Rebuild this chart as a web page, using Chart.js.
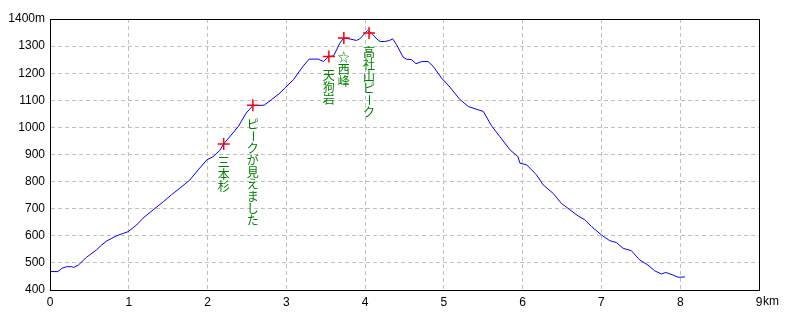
<!DOCTYPE html>
<html lang="ja">
  <head>
    <meta charset="UTF-8" />
    <title>高社山 標高グラフ</title>
    <script src="https://cdn.jsdelivr.net/npm/chart.js"></script>
    <style>
      body { margin: 0; background: #fff; }
      .chart-container { width: 800px; height: 320px; }
    </style>
  </head>
  <body>
    <div class="chart-container">
      <canvas id="profileChart"></canvas>
    </div>

    <script>
      // track distance (km) and elevation (m)
      const distKm = [0, 0.1, 0.15, 0.21, 0.275, 0.3, 0.36, 0.465, 0.59, 0.655, 0.72, 0.845, 0.93, 0.99,
        1.1, 1.18, 1.31, 1.44, 1.54, 1.65, 1.775, 1.88, 1.99, 2.07, 2.155, 2.205, 2.39, 2.49, 2.575,
        2.72, 2.81, 2.92, 2.98, 3.09, 3.21, 3.29, 3.405, 3.47, 3.54, 3.6, 3.68, 3.73, 3.81, 3.89, 3.93,
        4.0, 4.03, 4.08, 4.15, 4.19, 4.25, 4.31, 4.35, 4.4, 4.48, 4.52, 4.59, 4.645, 4.72, 4.8, 4.865,
        4.97, 5.075, 5.2, 5.31, 5.435, 5.5, 5.605, 5.71, 5.84, 5.94, 5.965, 6.05, 6.175, 6.26, 6.385,
        6.49, 6.6, 6.705, 6.79, 6.875, 7.0, 7.105, 7.19, 7.275, 7.38, 7.485, 7.59, 7.675, 7.76, 7.815,
        7.91, 7.975, 8.06];
      const elevM = [468, 468, 480, 486, 486, 483, 492, 521, 548, 566, 581, 600, 609, 615,
        640, 665, 696, 726, 751, 776, 806, 843, 880, 892, 915, 939, 1003, 1053, 1080,
        1082, 1102, 1127, 1145, 1176, 1225, 1252, 1252, 1243, 1262, 1264, 1311, 1330, 1326, 1321, 1326,
        1348, 1357, 1348, 1326, 1317, 1317, 1321, 1327, 1305, 1260, 1252, 1250, 1235, 1243, 1243, 1225,
        1182, 1149, 1104, 1077, 1065, 1059, 1006, 966, 917, 892, 868, 862, 825, 788, 757,
        720, 696, 673, 659, 634, 603, 582, 575, 554, 545, 511, 492, 471, 459, 465,
        455, 447, 448];

      // waypoints
      const wayKm = [2.205, 2.575, 3.54, 3.73, 4.05];
      const wayElev = [939, 1082, 1262, 1330, 1348];
      const wayNames = ["三本杉", "ピークが見えました", "天狗岩", "☆西峰", "高社山ピーク"];

      const xTicks = [0, 1, 2, 3, 4, 5, 6, 7, 8, 9];
      const yTicks = [400, 500, 600, 700, 800, 900, 1000, 1100, 1200, 1300, 1400];

      const tickFont = { family: "'Liberation Sans', sans-serif", size: 12 };

      const trackPoints = distKm.map((d, i) => ({ x: d, y: elevM[i] }));
      const wayPoints = wayKm.map((d, i) => ({ x: d, y: wayElev[i] }));

      // frame, vertical waypoint labels and the "km" unit
      const overlayPlugin = {
        id: "overlay",
        afterDatasetsDraw(chart) {
          const ctx = chart.ctx;
          const area = chart.chartArea;
          const xs = chart.scales.x;
          const ys = chart.scales.y;

          ctx.save();
          ctx.strokeStyle = "#000";
          ctx.lineWidth = 1;
          ctx.strokeRect(Math.round(area.left) + 0.5, Math.round(area.top) + 0.5,
            Math.round(area.right - area.left), Math.round(area.bottom - area.top));

          ctx.fillStyle = "#008000";
          ctx.font = "12px 'Noto Sans CJK JP'";
          ctx.textAlign = "center";
          ctx.textBaseline = "middle";
          wayNames.forEach((name, i) => {
            const px = xs.getPixelForValue(wayKm[i]);
            const py = ys.getPixelForValue(wayElev[i]);
            [...name].forEach((ch, j) => {
              const cy = py + 19 + j * 12;
              if (ch === "ー") {
                ctx.save();
                ctx.translate(px, cy);
                ctx.rotate(Math.PI / 2);
                ctx.fillText(ch, 0, 0);
                ctx.restore();
              } else {
                ctx.fillText(ch, px, cy);
              }
            });
          });

          ctx.fillStyle = "#000";
          ctx.font = "12px 'Liberation Sans', sans-serif";
          ctx.textAlign = "left";
          ctx.textBaseline = "middle";
          const x9 = xs.getPixelForValue(9);
          ctx.fillText("km", x9 + 4, 302);
          ctx.restore();
        },
      };

      new Chart(document.getElementById("profileChart"), {
        type: "scatter",
        data: {
          datasets: [
            {
              label: "標高",
              data: trackPoints,
              showLine: true,
              borderColor: "#0000ff",
              borderWidth: 1,
              pointRadius: 0,
              tension: 0,
              order: 2,
            },
            {
              label: "ウェイポイント",
              data: wayPoints,
              pointStyle: "cross",
              pointRadius: 6,
              borderColor: "#ff0000",
              borderWidth: 1.5,
              order: 1,
            },
          ],
        },
        options: {
          responsive: true,
          maintainAspectRatio: false,
          animation: false,
          layout: { padding: { left: 0, right: 41, top: 19, bottom: 0 } },
          plugins: {
            legend: { display: false },
            tooltip: { enabled: false },
          },
          scales: {
            x: {
              type: "linear",
              min: 0,
              max: 9,
              afterBuildTicks: (axis) => { axis.ticks = xTicks.map((v) => ({ value: v })); },
              afterFit: (axis) => { axis.height = 30; },
              ticks: {
                color: "#000",
                font: tickFont,
                padding: 5,
                maxRotation: 0,
                callback: (v) => String(v),
              },
              grid: { color: "#c0c0c0", drawTicks: false },
              border: { color: "#000", width: 1, dash: [4, 3] },
            },
            y: {
              type: "linear",
              min: 400,
              max: 1400,
              afterBuildTicks: (axis) => { axis.ticks = yTicks.map((v) => ({ value: v })); },
              afterFit: (axis) => { axis.width = 50; },
              ticks: {
                color: "#000",
                font: tickFont,
                padding: 5,
                callback: (v) => (v === 1400 ? "1400m" : String(v)),
              },
              grid: { color: "#c0c0c0", drawTicks: false },
              border: { color: "#000", width: 1, dash: [4, 3] },
            },
          },
        },
        plugins: [overlayPlugin],
      });
    </script>
  </body>
</html>
